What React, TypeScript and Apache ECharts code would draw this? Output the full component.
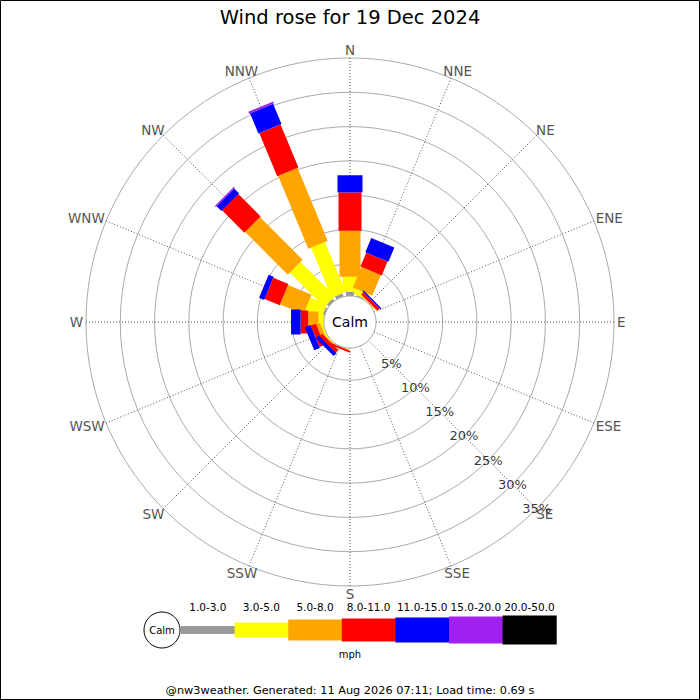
import React, { useEffect, useRef } from "react";
import * as echarts from "echarts";

const DIRECTIONS = ["N", "NNE", "NE", "ENE", "E", "ESE", "SE", "SSE", "S", "SSW", "SW", "WSW", "W", "WNW", "NW", "NNW"];
const SPEED_CLASSES = ["1.0-3.0", "3.0-5.0", "5.0-8.0", "8.0-11.0", "11.0-15.0", "15.0-20.0", "20.0-50.0"];
const CALM_PCT = 0.3;
// % of time per direction (N..NNW) for each speed class
const S1_3 = [0.6, 0.2, 0, 0, 0, 0, 0, 0, 0, 0, 0, 0, 0, 0.3, 0.4, 0.5];
const S3_5 = [2.2, 0.8, 0.1, 0, 0, 0, 0, 0, 0, 0, 0.15, 0.3, 0.8, 2.6, 7.1, 7.9];
const S5_8 = [6.7, 3.25, 0.1, 0, 0, 0, 0, 0, 0, 0.1, 0.15, 0.6, 1.5, 3.7, 8.8, 11.5];
const S8_11 = [5.6, 2.2, 0.45, 0, 0, 0, 0, 0, 0, 0.25, 0.5, 0.8, 1.1, 2.4, 4.6, 6.8];
const S11_15 = [2.5, 2.25, 0.2, 0, 0, 0, 0, 0, 0, 0, 0.6, 0.9, 1.4, 0.8, 1.0, 3.2];
const S15_20 = [0, 0, 0, 0, 0, 0, 0, 0, 0, 0, 0, 0, 0, 0, 0.2, 0.3];
const S20_50 = [0, 0, 0, 0, 0, 0, 0, 0, 0, 0, 0, 0, 0, 0, 0, 0];
const RADIAL_TICKS = [5, 10, 15, 20, 25, 30, 35];
const RADIAL_LABEL_DIR = "SE";
const TITLE = "Wind rose for 19 Dec 2024";
const UNIT = "mph";
const CALM_LABEL = "Calm";
const FOOTER = "@nw3weather. Generated: 11 Aug 2026 07:11; Load time: 0.69 s";

const CLASS_VALUES = [S1_3, S3_5, S5_8, S8_11, S11_15, S15_20, S20_50];
const COLORS = ["#999999", "#ffff00", "#ffa500", "#ff0000", "#0000ff", "#a020f0", "#000000"];
const WIDTHS = [8, 15, 21, 23, 25, 27, 29];
const FONT = "DejaVu Sans";
const DIR_FONT = `13.5px "${FONT}"`;
const STEP = 360 / DIRECTIONS.length;
const R_MAX = RADIAL_TICKS[RADIAL_TICKS.length - 1];

const centered = { align: "center", verticalAlign: "middle", textAlign: "center", textVerticalAlign: "middle" };

let measureCtx: CanvasRenderingContext2D | null = null;
function textWidth(text: string, font: string): number {
  if (!measureCtx) measureCtx = document.createElement("canvas").getContext("2d");
  if (!measureCtx) return text.length * 8;
  measureCtx.font = font;
  return measureCtx.measureText(text).width;
}

function buildOption() {
  let cum = DIRECTIONS.map(() => CALM_PCT);
  const barSeries = CLASS_VALUES.map((vals, k) => {
    const data = vals.map((v, i) => [cum[i], i * STEP, cum[i] + v]);
    cum = cum.map((c, i) => c + vals[i]);
    return {
      type: "custom",
      name: SPEED_CLASSES[k],
      coordinateSystem: "polar",
      silent: true,
      z: 3 + k,
      data,
      renderItem: (params: any, api: any) => {
        const s = api.value(0);
        const ang = api.value(1);
        const e = api.value(2);
        if (!(e - s > 0)) return null;
        const p0 = api.coord([s, ang]);
        const p1 = api.coord([e, ang]);
        const cs = params.coordSys;
        let ux = p1[0] - p0[0];
        let uy = p1[1] - p0[1];
        let len = Math.hypot(ux, uy);
        if (len < 1e-6) {
          ux = p0[0] - cs.cx;
          uy = p0[1] - cs.cy;
          len = Math.hypot(ux, uy);
        }
        ux /= len;
        uy /= len;
        const hw = WIDTHS[k] / 2;
        const nx = -uy * hw;
        const ny = ux * hw;
        return {
          type: "polygon",
          shape: {
            points: [
              [p0[0] + nx, p0[1] + ny],
              [p1[0] + nx, p1[1] + ny],
              [p1[0] - nx, p1[1] - ny],
              [p0[0] - nx, p0[1] - ny],
            ],
          },
          style: { fill: COLORS[k] },
        };
      },
    };
  });

  const calmSeries = {
    type: "custom",
    coordinateSystem: "polar",
    silent: true,
    z: 20,
    data: [[CALM_PCT, 0]],
    renderItem: (params: any, api: any) => {
      const cs = params.coordSys;
      const p = api.coord([api.value(0), 0]);
      const r = Math.hypot(p[0] - cs.cx, p[1] - cs.cy);
      return {
        type: "group",
        children: [
          {
            type: "circle",
            shape: { cx: cs.cx, cy: cs.cy, r },
            style: { fill: "#ffffff", stroke: "#aaaaaa", lineWidth: 1 },
          },
          {
            type: "text",
            x: cs.cx,
            y: cs.cy,
            style: { text: CALM_LABEL, fill: "#000", font: `14px "${FONT}"`, ...centered },
          },
        ],
      };
    },
  };

  // compass direction labels, placed just outside the outer ring
  const dirLabelSeries = {
    type: "custom",
    coordinateSystem: "polar",
    silent: true,
    z: 22,
    data: DIRECTIONS.map((d, i) => [R_MAX, i * STEP, i]),
    renderItem: (params: any, api: any) => {
      const cs = params.coordSys;
      const name = DIRECTIONS[api.value(2)];
      const p = api.coord([api.value(0), api.value(1)]);
      let ux = p[0] - cs.cx;
      let uy = p[1] - cs.cy;
      const len = Math.hypot(ux, uy);
      ux /= len;
      uy /= len;
      const margin = 3;
      const w = textWidth(name, DIR_FONT);
      const h = 10;
      const x = p[0] + ux * margin + (w / 2) * ux;
      const y = p[1] + uy * margin + (h / 2) * uy;
      return {
        type: "text",
        x,
        y,
        style: { text: name, fill: "#555555", font: DIR_FONT, ...centered },
      };
    },
  };

  const radialLabelAngle = DIRECTIONS.indexOf(RADIAL_LABEL_DIR) * STEP;
  const radialLabels = {
    type: "scatter",
    coordinateSystem: "polar",
    silent: true,
    z: 25,
    symbolSize: 1,
    itemStyle: { color: "rgba(0,0,0,0)" },
    data: RADIAL_TICKS.map((v) => [v, radialLabelAngle]),
    label: {
      show: true,
      position: "inside",
      formatter: (p: any) => `${p.value[0]}%`,
      color: "#000",
      fontSize: 13,
      fontFamily: FONT,
    },
  };

  // legend graphics
  const legendX0 = 181;
  const segW = 53.6;
  const legendY = 630;
  const legend: any[] = [
    {
      type: "circle",
      shape: { cx: 162, cy: legendY, r: 18 },
      style: { fill: "#fff", stroke: "#000", lineWidth: 1 },
    },
    {
      type: "text",
      x: 162,
      y: legendY,
      style: { text: CALM_LABEL, fill: "#000", font: `10px "${FONT}"`, ...centered },
    },
  ];
  SPEED_CLASSES.forEach((lab, k) => {
    legend.push({
      type: "rect",
      shape: { x: legendX0 + k * segW, y: legendY - WIDTHS[k] / 2, width: segW + 0.5, height: WIDTHS[k] },
      style: { fill: COLORS[k] },
    });
    legend.push({
      type: "text",
      x: legendX0 + (k + 0.5) * segW,
      y: 607,
      style: { text: lab, fill: "#000", font: `10.5px "${FONT}"`, ...centered },
    });
  });
  legend.push({
    type: "text",
    x: 350,
    y: 654,
    style: { text: UNIT, fill: "#000", font: `10px "${FONT}"`, ...centered },
  });
  legend.push({
    type: "text",
    x: 350,
    y: 17,
    style: { text: TITLE, fill: "#000", font: `19.5px "${FONT}"`, ...centered },
  });
  legend.push({
    type: "text",
    x: 350,
    y: 690,
    style: { text: FOOTER, fill: "#000", font: `11.3px "${FONT}"`, ...centered },
  });
  legend.push({
    type: "rect",
    shape: { x: 0.5, y: 0.5, width: 699, height: 699 },
    style: { fill: "none", stroke: "#000", lineWidth: 1 },
    silent: true,
  });

  return {
    animation: false,
    backgroundColor: "#ffffff",
    polar: { center: [350, 322], radius: [24, 264] },
    angleAxis: {
      type: "value",
      min: 0,
      max: 360,
      interval: STEP,
      startAngle: 90,
      clockwise: true,
      axisLine: { show: false },
      axisTick: { show: false },
      axisLabel: { show: false },
      splitLine: { show: true, lineStyle: { color: "#555555", type: [1, 2], width: 1 } },
    },
    radiusAxis: {
      type: "value",
      min: 0,
      max: R_MAX,
      interval: 5,
      axisLine: { show: false },
      axisTick: { show: false },
      axisLabel: { show: false },
      splitLine: { show: true, lineStyle: { color: "#aaaaaa", width: 1, type: "solid" } },
    },
    graphic: legend,
    series: [...barSeries, calmSeries, dirLabelSeries, radialLabels],
  };
}

export default function App() {
  const ref = useRef<HTMLDivElement>(null);
  useEffect(() => {
    document.body.style.margin = "0";
    if (!ref.current) return;
    const chart = echarts.init(ref.current, undefined, { renderer: "svg" });
    chart.setOption(buildOption() as any);
    return () => chart.dispose();
  }, []);
  return <div ref={ref} style={{ width: 700, height: 700 }} />;
}
